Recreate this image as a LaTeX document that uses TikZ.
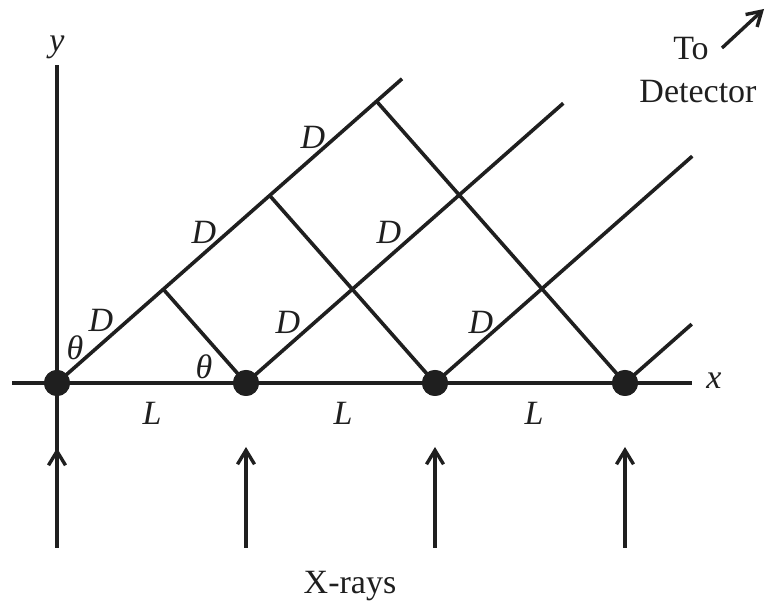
\documentclass[tikz,border=0pt]{standalone}
\usepackage{fontspec}
\setmainfont{Liberation Serif}
\usetikzlibrary{calc,arrows.meta}
\definecolor{ink}{gray}{0.12}
\begin{document}
\begin{tikzpicture}[x=1pt,y=1pt,
  line width=3.6pt, line cap=butt, color=ink,
  dot/.style={circle,fill=ink,inner sep=0pt,minimum size=26pt},
  lbl/.style={inner sep=0pt,font=\fontsize{34}{38}\selectfont\itshape},
  txt/.style={inner sep=0pt,font=\fontsize{34}{38}\selectfont},
  ray/.style={-{Straight Barb[length=14pt,width=17pt,line width=3.4pt]},line width=3.4pt}]
\useasboundingbox (0,0) rectangle (766,610);
% axes
\coordinate (xl) at (12,227);
\coordinate (xr) at (692,227);
\coordinate (yt) at (57,545);
\coordinate (yb) at (57,62);
\draw (xl) -- (xr);
\draw (yb) -- (yt);
% dots
\node[dot] (d1) at (57,227) {};
\node[dot] (d2) at (246,227) {};
\node[dot] (d3) at (435,227) {};
\node[dot] (d4) at (625,227) {};
% scattered rays
\coordinate (e1) at ($(d1.center)+(41.4:460pt)$);
\coordinate (e2) at ($(d2.center)+(41.4:423pt)$);
\coordinate (e3) at ($(d3.center)+(41.4:343pt)$);
\coordinate (e4) at ($(d4.center)+(41.4:89pt)$);
\draw (d1.center) -- (e1);
\draw (d2.center) -- (e2);
\draw (d3.center) -- (e3);
\draw (d4.center) -- (e4);
% perpendiculars
\coordinate (f2) at ($(d1.center)!(d2.center)!(e1)$);
\coordinate (f3) at ($(d1.center)!(d3.center)!(e1)$);
\coordinate (f4) at ($(d1.center)!(d4.center)!(e1)$);
\draw (d2.center) -- (f2);
\draw (d3.center) -- (f3);
\draw (d4.center) -- (f4);
% redraw dots on top
\foreach \n in {d1,d2,d3,d4} \fill[ink] (\n.center) circle (13pt);
% incoming x-rays
\coordinate (a1) at (57,62);   \coordinate (t1) at (57,162);
\coordinate (a2) at (246,62);  \coordinate (t2) at (246,163);
\coordinate (a3) at (435,62);  \coordinate (t3) at (435,163);
\coordinate (a4) at (625,62);  \coordinate (t4) at (625,163);
\draw[ray] (a1) -- (t1);
\draw[ray] (a2) -- (t2);
\draw[ray] (a3) -- (t3);
\draw[ray] (a4) -- (t4);
% to detector arrow
\coordinate (da) at (722,562);
\coordinate (db) at (764,601);
\draw[ray] (da) -- (db);
% labels
\node[lbl] (ly) at (57,563) {y};
\node[lbl] (lx) at (714,229) {x};
\node[lbl] (D1) at (101,290) {D};
\node[lbl] (D2) at (204,378) {D};
\node[lbl] (D3) at (313,473) {D};
\node[lbl] (D4) at (288,288) {D};
\node[lbl] (D5) at (389,378) {D};
\node[lbl] (D6) at (481,288) {D};
\node[lbl] (th1) at (75,262) {θ};
\node[lbl] (th2) at (204,243) {θ};
\node[lbl] (L1) at (152,197) {L};
\node[lbl] (L2) at (343,197) {L};
\node[lbl] (L3) at (534,197) {L};
\node[txt] (to) at (691,561) {To};
\node[txt] (det) at (698,518) {Detector};
\node[txt] (xrays) at (350,24) {X-rays};
\end{tikzpicture}
\end{document}
